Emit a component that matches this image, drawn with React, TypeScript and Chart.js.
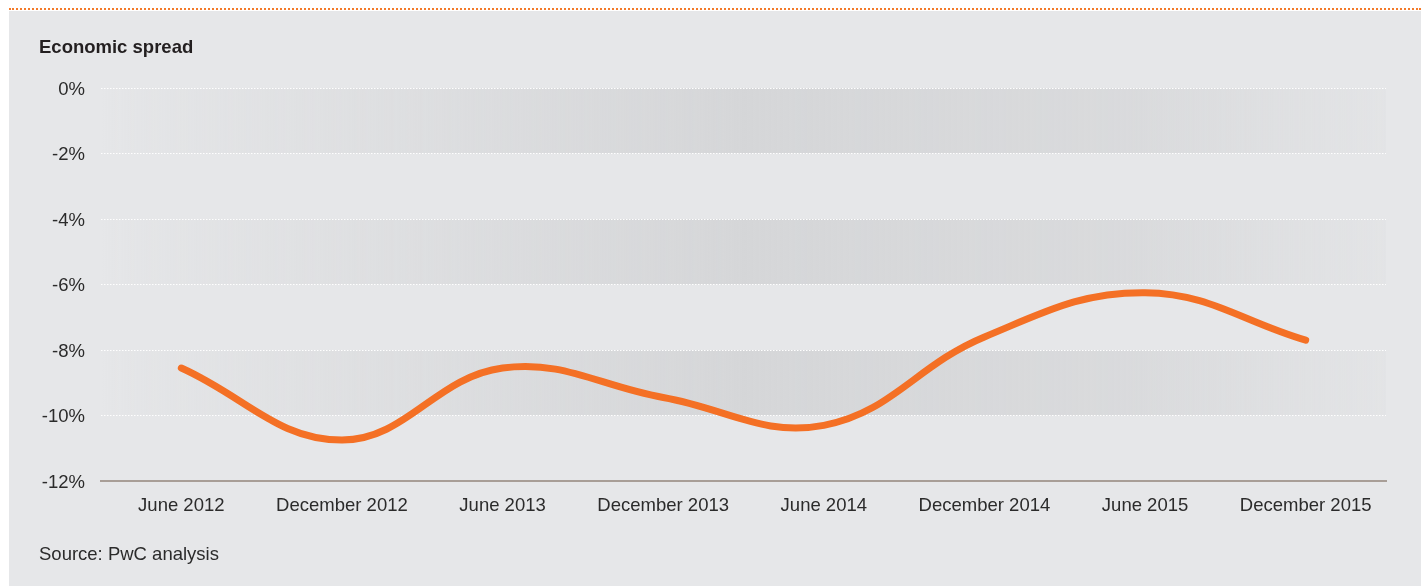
import React, { useEffect, useRef } from "react";
import { Chart, registerables } from "chart.js";

Chart.register(...registerables);

const categories = [
  "June 2012",
  "December 2012",
  "June 2013",
  "December 2013",
  "June 2014",
  "December 2014",
  "June 2015",
  "December 2015",
];
const spreadValues = [-8.55, -10.75, -8.55, -9.45, -10.3, -7.6, -6.25, -7.7];
const yTicks = [0, -2, -4, -6, -8, -10, -12];
const bandRanges = [
  [0, -2],
  [-4, -6],
  [-8, -10],
];

const BG = "#e6e7e9";
const FONT = "'Liberation Sans', Arial, Helvetica, sans-serif";
const FS = 18.5;

const bandPlugin = {
  id: "bands",
  beforeDraw(chart: any) {
    const { ctx, chartArea } = chart;
    const y = chart.scales.y;
    const g = ctx.createLinearGradient(chartArea.left, 0, chartArea.right, 0);
    g.addColorStop(0, "rgba(213,214,216,0)");
    g.addColorStop(0.03, "rgba(213,214,216,0.1)");
    g.addColorStop(0.5, "rgba(213,214,216,1)");
    g.addColorStop(0.8, "rgba(213,214,216,0.75)");
    g.addColorStop(1, "rgba(213,214,216,0.15)");
    ctx.save();
    ctx.fillStyle = g;
    for (const [a, b] of bandRanges) {
      const y1 = y.getPixelForValue(a);
      const y2 = y.getPixelForValue(b);
      ctx.fillRect(chartArea.left, y1, chartArea.right - chartArea.left, y2 - y1);
    }
    ctx.restore();
  },
};

export default function App() {
  const ref = useRef<HTMLCanvasElement>(null);
  useEffect(() => {
    if (!ref.current) return;
    const chart = new Chart(ref.current, {
      type: "line",
      data: {
        labels: categories,
        datasets: [
          {
            data: spreadValues,
            borderColor: "#f47025",
            borderWidth: 7,
            borderCapStyle: "round",
            borderJoinStyle: "round",
            tension: 0.4,
            pointRadius: 0,
            fill: false,
          },
        ],
      },
      options: {
        responsive: false,
        animation: false,
        layout: { padding: { top: 88, left: 0, right: 35, bottom: 65 } },
        plugins: { legend: { display: false }, tooltip: { enabled: false } },
        scales: {
          x: {
            type: "category",
            offset: true,
            grid: { display: false, drawTicks: false },
            border: { display: true, color: "#a89e97", width: 2 },
            ticks: {
              color: "#2b2b2b",
              font: { family: FONT, size: FS },
              padding: 14,
              maxRotation: 0,
              autoSkip: false,
            },
            afterFit: (s: any) => {
              s.height = 40;
            },
          },
          y: {
            min: -12,
            max: 0,
            afterBuildTicks: (s: any) => {
              s.ticks = yTicks.map((v) => ({ value: v }));
            },
            grid: {
              drawTicks: false,
              color: (c: any) => (c.tick && c.tick.value === -12 ? "rgba(0,0,0,0)" : "#ffffff"),
              lineWidth: 1,
            },
            border: { display: false, dash: [1.5, 1.5] },
            ticks: {
              color: "#2b2b2b",
              font: { family: FONT, size: FS },
              padding: 16,
              labelOffset: 1.5,
              callback: (v: any) => `${v}%`,
            },
            afterFit: (s: any) => {
              s.width = 101;
            },
          },
        },
      },
      plugins: [bandPlugin],
    });
    return () => chart.destroy();
  }, []);

  return (
    <div
      style={{
        position: "absolute",
        left: 0,
        top: 0,
        width: 1421,
        height: 586,
        background: "#ffffff",
        overflow: "hidden",
        fontFamily: FONT,
      }}
    >
      <div
        style={{
          position: "absolute",
          left: 9,
          right: 0,
          top: 8,
          borderTop: "2px dotted #f47a2a",
        }}
      />
      <div
        style={{
          position: "absolute",
          left: 9,
          right: 0,
          top: 11,
          bottom: 0,
          background: BG,
        }}
      />
      <canvas
        ref={ref}
        width={1421}
        height={586}
        style={{ position: "absolute", left: 0, top: 0, width: 1421, height: 586 }}
      />
      <div
        style={{
          position: "absolute",
          left: 39,
          top: 38,
          fontSize: FS,
          lineHeight: "18px",
          fontWeight: "bold",
          color: "#231f20",
          whiteSpace: "nowrap",
        }}
      >
        Economic spread
      </div>
      <div
        style={{
          position: "absolute",
          left: 39,
          top: 545,
          fontSize: FS,
          lineHeight: "18px",
          color: "#2b2b2b",
          whiteSpace: "nowrap",
        }}
      >
        Source: PwC analysis
      </div>
    </div>
  );
}
